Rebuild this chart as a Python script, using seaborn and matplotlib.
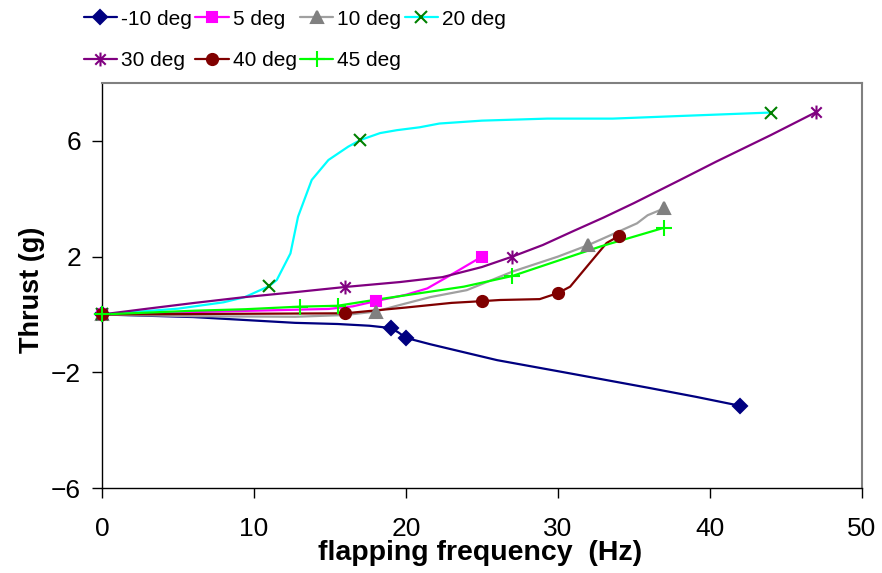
import numpy as np
import pandas as pd
import matplotlib
matplotlib.use("Agg")
import matplotlib.pyplot as plt
from matplotlib.lines import Line2D
from matplotlib.path import Path
import seaborn as sns

# ---- data (frequency in Hz, thrust in g) ----
labels = ["-10 deg", "5 deg", "10 deg", "20 deg", "30 deg", "40 deg", "45 deg"]

# smoothed curves
m10_cx = [0, 6, 12.7, 15.5, 17.6, 19, 19.5, 20, 21.6, 26, 30.3, 36, 39.1, 42]
m10_cy = [0, -0.09, -0.29, -0.33, -0.39, -0.47, -0.62, -0.81, -1.03, -1.58, -1.99, -2.54, -2.85, -3.16]
p5_cx = [0, 5, 10, 14.9, 16.5, 18, 20, 21.4, 22.7, 25]
p5_cy = [0, 0.07, 0.13, 0.19, 0.28, 0.46, 0.68, 0.9, 1.29, 2.0]
p10_cx = [0, 6, 12.7, 16, 18, 19.4, 21.6, 24, 27, 30, 32, 33.5, 35.2, 35.9, 37]
p10_cy = [0, -0.06, -0.08, -0.02, 0.1, 0.3, 0.6, 0.84, 1.48, 2.0, 2.4, 2.75, 3.15, 3.43, 3.67]
p20_cx = [0, 5, 8, 9.4, 11, 11.5, 12.4, 12.9, 13.8, 14.9, 16.2, 17, 18.3, 19.4, 20.9, 22.2, 25, 29.3, 33.6, 38, 44]
p20_cy = [0, 0.2, 0.42, 0.6, 0.98, 1.19, 2.11, 3.38, 4.65, 5.34, 5.8, 6.03, 6.27, 6.37, 6.47, 6.6, 6.7, 6.77, 6.77, 6.86, 6.98]
p30_cx = [0, 3, 6.1, 9.4, 12.7, 16, 19.6, 22.4, 25, 27, 29, 31, 33, 35, 38, 40.4, 44, 47]
p30_cy = [0, 0.2, 0.4, 0.6, 0.77, 0.95, 1.12, 1.29, 1.64, 2.0, 2.4, 2.88, 3.35, 3.85, 4.64, 5.28, 6.2, 7.0]
p40_cx = [0, 8, 16, 20, 23, 25, 26.2, 28.8, 30, 30.8, 32.1, 33.2, 34]
p40_cy = [0, 0.02, 0.04, 0.24, 0.4, 0.46, 0.5, 0.53, 0.74, 0.96, 1.78, 2.47, 2.71]
p45_cx = [0, 6.1, 9.4, 13, 15.5, 17.9, 23.8, 27, 32.8, 37]
p45_cy = [0, 0.13, 0.18, 0.27, 0.3, 0.5, 0.96, 1.33, 2.35, 3.0]

# measured points (markers)
m10_x = [0, 19, 20, 42]
m10_y = [0, -0.47, -0.81, -3.16]
p5_x = [0, 18, 25]
p5_y = [0, 0.46, 2.0]
p10_x = [0, 18, 32, 37]
p10_y = [0, 0.1, 2.4, 3.67]
p20_x = [0, 11, 17, 44]
p20_y = [0, 0.98, 6.03, 6.98]
p30_x = [0, 16, 27, 47]
p30_y = [0, 0.95, 2.0, 7.0]
p40_x = [0, 16, 25, 30, 34]
p40_y = [0, 0.04, 0.46, 0.74, 2.71]
p45_x = [0, 13, 15.5, 27, 37]
p45_y = [0, 0.27, 0.3, 1.33, 3.0]

curves = [(m10_cx, m10_cy), (p5_cx, p5_cy), (p10_cx, p10_cy), (p20_cx, p20_cy),
          (p30_cx, p30_cy), (p40_cx, p40_cy), (p45_cx, p45_cy)]
points = [(m10_x, m10_y), (p5_x, p5_y), (p10_x, p10_y), (p20_x, p20_y),
          (p30_x, p30_y), (p40_x, p40_y), (p45_x, p45_y)]

# ---- styles (Excel-like) ----
STAR = Path([(0, -1), (0, 1), (-0.75, -0.75), (0.75, 0.75), (-0.75, 0.75), (0.75, -0.75)],
            [Path.MOVETO, Path.LINETO] * 3)
line_colors = ["#000080", "#FF00FF", "#A0A0A0", "#00FFFF", "#800080", "#800000", "#00FF00"]
mk_colors = ["#000080", "#FF00FF", "#808080", "#008000", "#800080", "#800000", "#00FF00"]
mk_shapes = ["D", "s", "^", "x", STAR, "o", "+"]
mk_sizes = [7.5, 7.5, 9, 9, 10, 8, 12]

sns.set_theme(style="ticks")
plt.rcParams["font.family"] = ["Liberation Sans", "DejaVu Sans"]
plt.rcParams["text.color"] = "black"
plt.rcParams["axes.labelcolor"] = "black"

fig = plt.figure(figsize=(8.82, 5.73), dpi=100)
ax = fig.add_axes([0.1156, 0.1483, 0.8617, 0.7068])

for i, ((cx, cy), (px, py)) in enumerate(zip(curves, points)):
    sns.lineplot(x=cx, y=cy, ax=ax, color=line_colors[i], lw=1.6,
                 estimator=None, sort=False, legend=False)
    ax.plot(px, py, linestyle="none", marker=mk_shapes[i], ms=mk_sizes[i],
            color=mk_colors[i], mec=mk_colors[i], mew=1.5, clip_on=False, zorder=4)

ax.set_xlim(0, 50)
ax.set_ylim(-6, 8)
ax.set_xticks([0, 10, 20, 30, 40, 50])
ax.set_yticks([-6, -2, 2, 6])
ax.tick_params(axis="both", direction="out", length=7, width=1, color="black",
               labelsize=19, labelcolor="black")
ax.tick_params(axis="x", pad=14)
ax.tick_params(axis="y", pad=8)
for side in ["left", "bottom"]:
    ax.spines[side].set_color("black")
    ax.spines[side].set_linewidth(1)
for side in ["top", "right"]:
    ax.spines[side].set_visible(True)
    ax.spines[side].set_color("#808080")
    ax.spines[side].set_linewidth(1.5)
ax.grid(False)

ax.set_xlabel("flapping frequency  (Hz)", fontsize=20.5, fontweight="bold", va="top")
ax.xaxis.set_label_coords(0.497, -0.128)
ax.set_ylabel("Thrust (g)", fontsize=19.5, fontweight="bold", va="center")
ax.yaxis.set_label_coords(-0.092, 0.49)

handles = [Line2D([], [], color=line_colors[i], lw=1.6, marker=mk_shapes[i],
                  ms=mk_sizes[i], mfc=mk_colors[i], mec=mk_colors[i], mew=1.5)
           for i in range(len(labels))]
order = [0, 4, 1, 5, 2, 6, 3]
fig.legend([handles[i] for i in order], [labels[i] for i in order],
           ncol=4, loc="upper left", bbox_to_anchor=(0.095, 0.983), frameon=False,
           fontsize=15, handlelength=1.6, handletextpad=0.2, columnspacing=0.15,
           labelspacing=1.07, borderpad=0, borderaxespad=0)

fig.savefig("out.png", dpi=100, facecolor="white")
